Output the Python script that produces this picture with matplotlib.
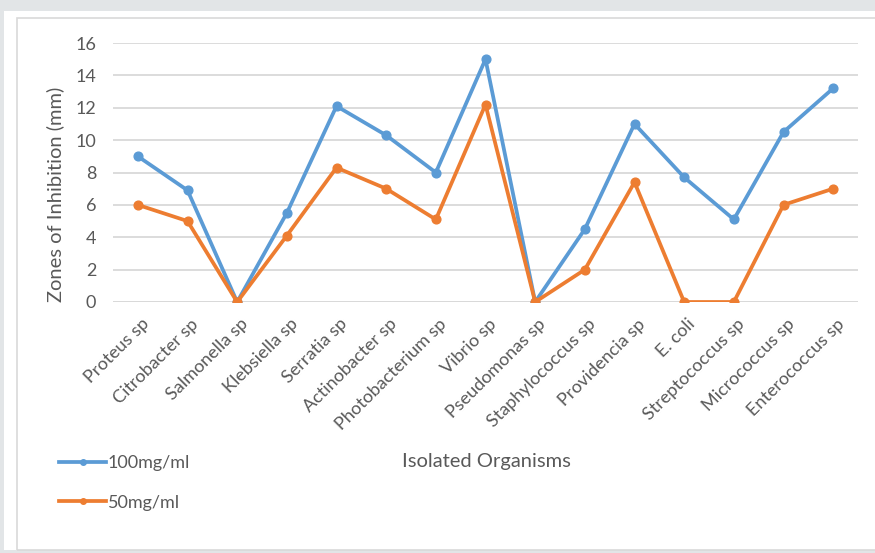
import matplotlib
matplotlib.use("Agg")
import matplotlib.pyplot as plt
from matplotlib.patches import Rectangle
from matplotlib.lines import Line2D

organisms = ["Proteus sp", "Citrobacter sp", "Salmonella sp", "Klebsiella sp",
             "Serratia sp", "Actinobacter sp", "Photobacterium sp", "Vibrio sp",
             "Pseudomonas sp", "Staphylococcus sp", "Providencia sp", "E. coli",
             "Streptococcus sp", "Micrococcus sp", "Enterococcus sp"]
conc_100 = [9.0, 6.9, 0.0, 5.5, 12.1, 10.3, 8.0, 15.0, 0.0, 4.5, 11.0, 7.7, 5.1, 10.5, 13.2]
conc_50 = [6.0, 5.0, 0.0, 4.1, 8.3, 7.0, 5.1, 12.2, 0.0, 2.0, 7.4, 0.0, 0.0, 6.0, 7.0]
y_ticks = [0, 2, 4, 6, 8, 10, 12, 14, 16]

W, H = 875, 553
plt.rcParams["font.family"] = ["Lato", "DejaVu Sans"]
text_color = "#595959"
blue = "#5B9BD5"
orange = "#ED7D31"

fig = plt.figure(figsize=(W / 100, H / 100), dpi=100, facecolor="#e2e5e7")

def px(x0, y0, w, h):
    return [x0 / W, 1 - (y0 + h) / H, w / W, h / H]

# white panel and light chart border
fig.patches.append(Rectangle((4 / W, 1 - 550 / H), (W - 4) / W, (550 - 11) / H,
                             transform=fig.transFigure, facecolor="white",
                             edgecolor="none", zorder=-10))
fig.patches.append(Rectangle((17 / W, 1 - 550 / H), (W + 20) / W, (550 - 18) / H,
                             transform=fig.transFigure, facecolor="none",
                             edgecolor="#d9d9d9", lw=1.2, zorder=-9))

ax = fig.add_axes(px(113, 43, 745, 259))
ax.set_facecolor("none")
x = list(range(len(organisms)))
ax.plot(x, conc_100, color=blue, lw=2.7, marker="o", ms=6.3, label="100mg/ml",
        solid_joinstyle="round", zorder=3)
ax.plot(x, conc_50, color=orange, lw=2.7, marker="o", ms=6.3, label="50mg/ml",
        solid_joinstyle="round", zorder=3)

ax.set_xlim(-0.5, len(organisms) - 0.5)
ax.set_ylim(0, 16)
ax.set_yticks(y_ticks)
ax.set_yticklabels([str(t) for t in y_ticks], fontsize=13, color=text_color)
ax.yaxis.grid(True, color="#d9d9d9", lw=1.3)
ax.set_axisbelow(True)
ax.tick_params(axis="y", length=0, pad=12)
ax.tick_params(axis="x", length=0)
for s in ax.spines.values():
    s.set_visible(False)
ax.axhline(0, color="#d9d9d9", lw=1.3, zorder=1)

ax.set_xticks(x)
ax.set_xticklabels([])
for i, name in enumerate(organisms):
    ax.annotate(name, xy=(i, 0), xycoords=("data", "axes fraction"),
                xytext=(6, -14), textcoords="offset points",
                rotation=45, rotation_mode="anchor", ha="right", va="center",
                fontsize=13, color=text_color)

fig.text(55 / W, 1 - 194 / H, "Zones of Inhibition (mm)", rotation=90,
         ha="center", va="center", fontsize=14.5, color=text_color)
fig.text(486 / W, 1 - 461 / H, "Isolated Organisms", ha="center", va="center",
         fontsize=14.5, color=text_color)

handles = [Line2D([], [], color=blue, lw=2.7, marker="o", ms=4),
           Line2D([], [], color=orange, lw=2.7, marker="o", ms=4)]
fig.legend(handles, ["100mg/ml", "50mg/ml"], loc="upper left",
           bbox_to_anchor=(43 / W, 1 - 439 / H), frameon=False, numpoints=1,
           handlelength=2.6, handletextpad=0.1, labelspacing=1.3,
           prop={"size": 13}, labelcolor=text_color)

fig.savefig("out.png", dpi=100, facecolor=fig.get_facecolor())
